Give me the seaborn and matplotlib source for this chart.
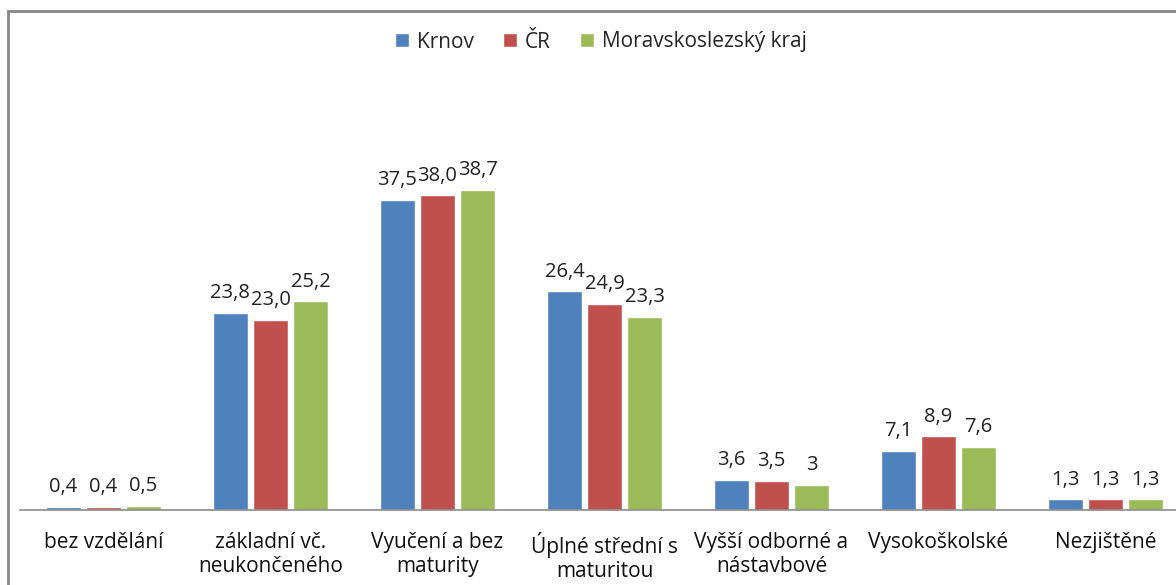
import matplotlib
matplotlib.use("Agg")
import matplotlib.pyplot as plt
import seaborn as sns
import pandas as pd
from matplotlib.patches import Rectangle

categories = ["bez vzdělání", "základní vč.\nneukončeného", "Vyučení a bez\nmaturity",
              "Úplné střední s\nmaturitou", "Vyšší odborné a\nnástavbové", "Vysokoškolské", "Nezjištěné"]
series = ["Krnov", "ČR", "Moravskoslezský kraj"]
krnov = [0.4, 23.8, 37.5, 26.4, 3.6, 7.1, 1.3]
cr = [0.4, 23.0, 38.0, 24.9, 3.5, 8.9, 1.3]
msk = [0.5, 25.2, 38.7, 23.3, 3.0, 7.6, 1.3]
labels_krnov = ["0,4", "23,8", "37,5", "26,4", "3,6", "7,1", "1,3"]
labels_cr = ["0,4", "23,0", "38,0", "24,9", "3,5", "8,9", "1,3"]
labels_msk = ["0,5", "25,2", "38,7", "23,3", "3", "7,6", "1,3"]
colors = ["#4F81BD", "#C0504D", "#9BBB59"]

rows = []
for s, vals in zip(series, [krnov, cr, msk]):
    for c, v in zip(categories, vals):
        rows.append({"cat": c, "series": s, "value": v})
df = pd.DataFrame(rows)

sns.set_theme(style="white")
plt.rcParams['font.family'] = ['Open Sans', 'DejaVu Sans']

W, H = 1176, 585
fig = plt.figure(figsize=(W / 100, H / 100), dpi=100)
ax_left, ax_right = 20, 1189
ax_top, ax_bot = 96, 510
ax = fig.add_axes([ax_left / W, 1 - ax_bot / H, (ax_right - ax_left) / W, (ax_bot - ax_top) / H])

sns.barplot(data=df, x="cat", y="value", hue="series", order=categories, hue_order=series,
            palette=colors, width=0.72, gap=0.12, ax=ax, legend=True, saturation=1)

for cont, labs in zip(ax.containers, [labels_krnov, labels_cr, labels_msk]):
    ax.bar_label(cont, labels=labs, padding=7, fontsize=14.5, color="#222222")

ax.set_ylim(0, 50)
ax.set_xlim(-0.5, len(categories) - 0.5)
ax.set_xlabel("")
ax.set_ylabel("")
ax.set_yticks([])
ax.tick_params(axis="x", length=0, pad=16, labelsize=15, labelcolor="#111111")
for lab in ax.get_xticklabels():
    lab.set_linespacing(1.15)
for side in ["top", "right", "left"]:
    ax.spines[side].set_visible(False)
ax.spines["bottom"].set_color("#8c8c8c")
ax.spines["bottom"].set_linewidth(1.2)

leg = ax.legend(loc="center", bbox_to_anchor=(601 / W, 1 - 42 / H), bbox_transform=fig.transFigure,
                ncol=3, frameon=False, fontsize=15, handlelength=0.65, handleheight=0.65,
                handletextpad=0.4, columnspacing=1.4)

fig.patches.append(Rectangle((8 / W, -0.1), 1.2, 1 - 11 / H + 0.1, transform=fig.transFigure,
                             fill=False, edgecolor="#888888", linewidth=2))

fig.savefig("out.png", dpi=100)
